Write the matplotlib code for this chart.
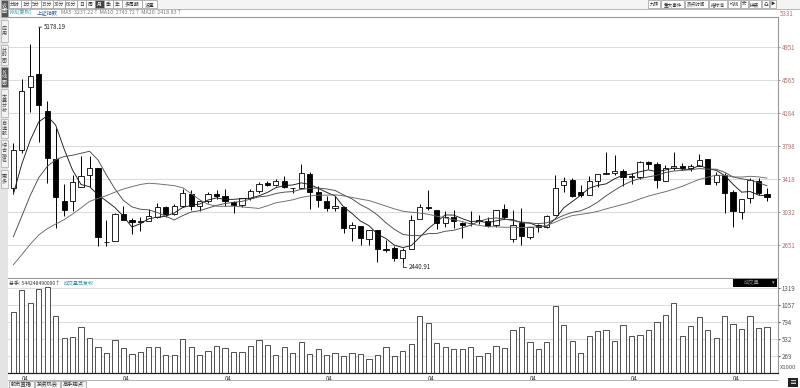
import numpy as np
import pandas as pd
import matplotlib
matplotlib.use("Agg")
import matplotlib.pyplot as plt
from matplotlib.patches import Rectangle

plt.rcParams['font.family'] = ['Noto Sans CJK SC', 'DejaVu Sans']

W, H = 800, 388

# monthly closes before the first visible bar (2013-08 .. 2015-02), only used for the MAs
prior_close = [2098.38, 2174.67, 2141.61, 2220.50, 2115.98, 2033.08, 2056.30, 2033.31,
               2026.36, 2039.21, 2048.33, 2201.56, 2217.20, 2363.87, 2420.18, 2682.84,
               3234.68, 3210.36, 3310.30]

# visible bars 2015-03 .. 2022-08
open_ = [3310, 3748, 4480, 4633, 4200, 3643, 3157, 3156, 3325, 3456,
         3537, 2688, 2700, 3012, 2937, 2913, 2931, 2979, 3085, 3004, 3100, 3244,
         3105, 3160, 3242, 3223, 3143, 3107, 3192, 3276, 3367, 3347, 3395, 3311,
         3314, 3478, 3259, 3163, 3081, 3084, 2842, 2868, 2717, 2822, 2596, 2614,
         2497, 2600, 2954, 3095, 3052, 2901, 2978, 2908, 2898, 2933, 2925, 2875,
         3066, 2716, 2900, 2743, 2878, 2863, 3000, 3340, 3401, 3262, 3234, 3395,
         3474, 3484, 3509, 3442, 3441, 3615, 3587, 3393, 3543, 3568, 3547, 3565,
         3649, 3384, 3463, 3259, 3030, 3195, 3396, 3246]
high = [3835, 4572, 4986, 5178.19, 4318, 4006, 3357, 3457, 3679, 3684,
        3539, 2934, 3019, 3097, 2961, 2974, 3070, 3140, 3100, 3123, 3301, 3288,
        3174, 3260, 3284, 3295, 3155, 3199, 3301, 3375, 3391, 3418, 3450, 3314,
        3587, 3495, 3334, 3220, 3219, 3104, 2915, 2872, 2827, 2828, 2703, 2634,
        2618, 2997, 3130, 3288, 3055, 3045, 3049, 2915, 3047, 3000, 2968, 3053,
        3127, 3059, 3074, 2862, 2897, 2991, 3458, 3434, 3425, 3348, 3453, 3474,
        3732, 3696, 3532, 3481, 3625, 3625, 3608, 3582, 3723, 3602, 3594, 3708,
        3651, 3491, 3481, 3289, 3187, 3424, 3424, 3310]
low = [3268, 3715, 4198, 3847, 3373, 2850, 2983, 3039, 3322, 3327,
       2638, 2639, 2701, 2934, 2781, 2807, 2927, 2962, 2969, 2994, 3091, 3056,
       3044, 3136, 3187, 3099, 3017, 3090, 3172, 3248, 3328, 3337, 3305, 3254,
       3314, 3062, 3091, 3041, 3041, 2782, 2691, 2653, 2644, 2449, 2569, 2463,
       2440.91, 2600, 2954, 3058, 2838, 2858, 2844, 2733, 2874, 2891, 2857, 2858,
       2955, 2685, 2647, 2718, 2799, 2845, 3000, 3264, 3202, 3208, 3224, 3325,
       3474, 3459, 3328, 3355, 3416, 3530, 3312, 3393, 3517, 3515, 3502, 3560,
       3357, 3344, 3023, 2863, 2954, 3141, 3226, 3155]
close = [3747.90, 4441.66, 4611.74, 4277.22, 3663.73, 3205.99, 3052.78, 3382.56, 3445.40, 3539.18,
         2737.60, 2687.98, 3003.92, 2938.32, 2916.62, 2929.61, 2979.34, 3085.49, 3004.70, 3100.49, 3250.03, 3103.64,
         3159.17, 3241.73, 3222.51, 3154.66, 3117.18, 3192.43, 3273.03, 3360.81, 3348.94, 3393.34, 3317.19, 3307.17,
         3480.83, 3259.41, 3168.90, 3082.23, 3095.47, 2847.42, 2876.40, 2725.25, 2821.35, 2602.78, 2588.19, 2493.90,
         2584.57, 2940.95, 3090.76, 3078.34, 2898.70, 2978.88, 2932.51, 2886.24, 2905.19, 2929.06, 2871.98, 3050.12,
         2976.53, 2880.30, 2750.30, 2860.08, 2852.35, 2984.67, 3310.01, 3395.68, 3218.05, 3224.53, 3391.76, 3473.07,
         3483.07, 3509.08, 3441.91, 3446.86, 3615.48, 3591.20, 3397.36, 3543.94, 3568.17, 3547.34, 3563.89, 3639.78,
         3361.44, 3462.31, 3252.20, 3047.06, 3186.43, 3398.62, 3253.24, 3202.14]
volume = [950, 1287, 1085, 1302, 1328, 888, 543, 553, 718, 543,
          408, 315, 516, 388, 295, 330, 408, 408, 284, 284, 527, 408,
          284, 346, 419, 388, 330, 330, 419, 516, 439, 284, 408, 305,
          485, 299, 377, 284, 315, 268, 315, 295, 222, 284, 408, 268,
          346, 450, 888, 770, 460, 408, 377, 377, 408, 268, 315, 423,
          392, 667, 708, 485, 377, 481, 1043, 749, 501, 315, 578, 656,
          671, 501, 749, 578, 594, 671, 795, 904, 1085, 578, 733, 873,
          667, 543, 888, 760, 682, 888, 698, 713]

price_ticks = [2651, 3032, 3418, 3798, 4184, 4565, 4951]
price_top_label = 5331
vol_ticks = [269, 532, 794, 1057, 1319]
year_tick_idx = [1, 13, 25, 37, 49, 61, 73, 85]
year_tick_lbl = ["04"] * 8

ma_periods = [5, 10, 20]
ma_colors = ['#1a1a1a', '#4a4a4a', '#6a6a6a']

fig = plt.figure(figsize=(W / 100, H / 100), dpi=100)


def box(x0, y0, x1, y1):
    return [x0 / W, 1 - y1 / H, (x1 - x0) / W, (y1 - y0) / H]


def ftext(x, y, s, **kw):
    kw.setdefault('fontsize', 4.0)
    kw.setdefault('va', 'center')
    fig.text(x / W, 1 - y / H, s, **kw)


def frect(x0, y0, x1, y1, **kw):
    fig.add_artist(Rectangle((x0 / W, 1 - y1 / H), (x1 - x0) / W, (y1 - y0) / H,
                             transform=fig.transFigure, **kw))


o = np.array(open_, float)
c = np.array(close, float)
hi = np.array(high, float)
lo = np.array(low, float)
n = len(c)
x = np.arange(n)

allc = pd.Series(prior_close + close)
mas = {p: allc.rolling(p).mean().to_numpy()[len(prior_close):] for p in ma_periods}

# ---------- main K-line panel ----------
ax = fig.add_axes(box(8, 17, 778, 278))
ax.set_xlim(-0.63, 90.3)
ax.set_ylim(2265, 5296)
for t in price_ticks:
    ax.axhline(t, color='#dcdcdc', lw=0.8, zorder=0)

ax.vlines(x, lo, hi, color='black', lw=0.7, zorder=2)
up = c >= o
ax.bar(x, np.abs(c - o), bottom=np.minimum(o, c), width=0.62,
       color=np.where(up, 'white', 'black'), edgecolor='black', linewidth=0.6, zorder=3)
for p, col in zip(ma_periods, ma_colors):
    ax.plot(x, mas[p], color=col, lw=0.65, zorder=4)

ih = int(np.argmax(hi))
ax.annotate(f"{hi[ih]:.2f}", xy=(ih, hi[ih]), xytext=(4, 0), textcoords='offset points',
            fontsize=4.4, va='center', ha='left', color='#222',
            arrowprops=dict(arrowstyle='-', color='#222', lw=0.6, shrinkA=0, shrinkB=0))
il = int(np.argmin(lo))
ax.annotate(f"{lo[il]:.2f}", xy=(il, lo[il]), xytext=(4, -3), textcoords='offset points',
            fontsize=4.4, va='center', ha='left', color='#222',
            arrowprops=dict(arrowstyle='-', color='#222', lw=0.6, shrinkA=0, shrinkB=0,
                            connectionstyle='angle,angleA=0,angleB=90,rad=0'))

ax.yaxis.tick_right()
ax.set_yticks(price_ticks)
ax.set_yticklabels([str(t) for t in price_ticks])
ax.tick_params(axis='y', labelsize=4.4, colors='#b07070', length=1.5, pad=1)
ax.tick_params(axis='y', color='#999')
ax.text(1.003, price_top_label, str(price_top_label), transform=ax.get_yaxis_transform(),
        fontsize=4.4, color='#b07070', va='center', ha='left', clip_on=False)
ax.set_xticks([])
ax.spines['left'].set_visible(False)
for s in ['right', 'top', 'bottom']:
    ax.spines[s].set_color('#999')
    ax.spines[s].set_linewidth(0.8)

# ---------- volume panel ----------
ax2 = fig.add_axes(box(8, 279, 778, 373))
ax2.set_xlim(-0.63, 90.3)
ax2.set_ylim(0, 1457)
for t in vol_ticks:
    ax2.axhline(t, color='#dcdcdc', lw=0.8, zorder=0)
ax2.bar(x, volume, width=0.62, facecolor='white', edgecolor='#333', linewidth=0.6, zorder=2)
ax2.yaxis.tick_right()
ax2.set_yticks(vol_ticks)
ax2.set_yticklabels([str(t) for t in vol_ticks])
ax2.tick_params(axis='y', labelsize=4.4, colors='#555', length=1.5, pad=1)
ax2.text(1.003, 0.03, "X1000", transform=ax2.transAxes, fontsize=4.2, color='#555',
         va='bottom', ha='left')
ax2.set_xticks(np.array(year_tick_idx) + 0.35)
ax2.set_xticklabels(year_tick_lbl)
ax2.tick_params(axis='x', labelsize=4.4, colors='#333', length=0, pad=1.5)
ax2.spines['left'].set_visible(False)
ax2.spines['top'].set_visible(False)
ax2.spines['right'].set_color('#999')
ax2.spines['right'].set_linewidth(0.8)
ax2.spines['bottom'].set_color('#222')
ax2.spines['bottom'].set_linewidth(0.9)
frect(733, 279, 777, 287, facecolor='black', edgecolor='none')
ftext(752, 283, "成交量", color='#888', ha='center', fontsize=3.8)
ftext(773, 283, "▾", color='#aaa', ha='center', fontsize=3.8)
ftext(9, 283.5, "总手: 544248490000↑", color='#333', fontsize=3.6)
ftext(64, 283.5, "成交量已复权", color='#3a9aa8', fontsize=3.6)

# ---------- header ----------
frect(0, 0, 800, 8.5, facecolor='#f4f4f4', edgecolor='none')
fig.add_artist(plt.Line2D([0, 1], [1 - 8.5 / H, 1 - 8.5 / H], transform=fig.transFigure,
                          color='#aaa', lw=0.6))
toolbar = [("分时", 9, 21), ("1分", 21, 31), ("5分", 31, 41), ("15分", 41, 53), ("30分", 53, 65),
           ("60分", 65, 77), ("日", 77, 86), ("周", 86, 95), ("月", 95, 104), ("季", 104, 113),
           ("年", 113, 122), ("多周期", 122, 142), ("设置", 142, 157)]
for lbl, a, b in toolbar:
    dark = lbl == "月"
    frect(a, 0.5, b, 8, facecolor='#444' if dark else 'white', edgecolor='#999', lw=0.5)
    ftext((a + b) / 2, 4.5, lbl, ha='center', color='white' if dark else '#333', fontsize=3.5)
right_bar = [("九转", 648, 660), ("重大事件", 661, 684), ("热点时间", 685, 708), ("指标池", 709, 727),
             ("均线", 728, 740), ("宏", 741, 748), ("拼装", 749, 761), ("凸", 762, 769), ("▶", 770, 776)]
for lbl, a, b in right_bar:
    frect(a, 0.5, b, 8, facecolor='white', edgecolor='#999', lw=0.5)
    ftext((a + b) / 2, 4.5, lbl, ha='center', color='#333', fontsize=3.3)

ftext(9, 13, "K线(复权)", color='#3a9aa8', fontsize=3.8)
ftext(37, 13, "上证指数", color='#2a5ab0', fontsize=3.8)
ma_txt = " ".join(f"MA{p}: {mas[p][0]:.2f}↑" for p in ma_periods)
ftext(61, 13, ma_txt, color='#777', fontsize=3.8)

# ---------- left strip ----------
frect(0, 0, 8, 388, facecolor='#e4e4e4', edgecolor='none')
tabs = [("返回", 0, 17, True), ("应用", 20, 42, False), ("分时图", 45, 65, False),
        ("K线图", 67, 87, True), ("大盘分析", 89, 117, False), ("自选股", 119, 138, False),
        ("综合排名", 140, 167, False), ("更多", 170, 188, False)]
for lbl, a, b, dark in tabs:
    frect(0.5, a, 7.5, b, facecolor='#555' if dark else '#f2f2f2', edgecolor='#aaa', lw=0.5)
    ftext(4, (a + b) / 2, "\n".join(lbl), ha='center', color='white' if dark else '#444',
          fontsize=3.6, linespacing=1.0)

# ---------- bottom strip ----------
fig.add_artist(plt.Line2D([8 / W, 778 / W], [1 - 380 / H, 1 - 380 / H], transform=fig.transFigure,
                          color='#aaa', lw=0.6))
for lbl, a, b in [("股市直播", 9, 34), ("投资机会", 35, 60), ("高手观点", 61, 86)]:
    frect(a, 380.5, b, 388, facecolor='#f4f4f4', edgecolor='#999', lw=0.5)
    ftext((a + b) / 2, 384.5, lbl, ha='center', color='#333', fontsize=3.8)
frect(788, 378, 798, 387, facecolor='#222', edgecolor='none')
ftext(793, 382.5, "≡", ha='center', color='white', fontsize=5)

fig.savefig("out.png", dpi=100, facecolor='white')
